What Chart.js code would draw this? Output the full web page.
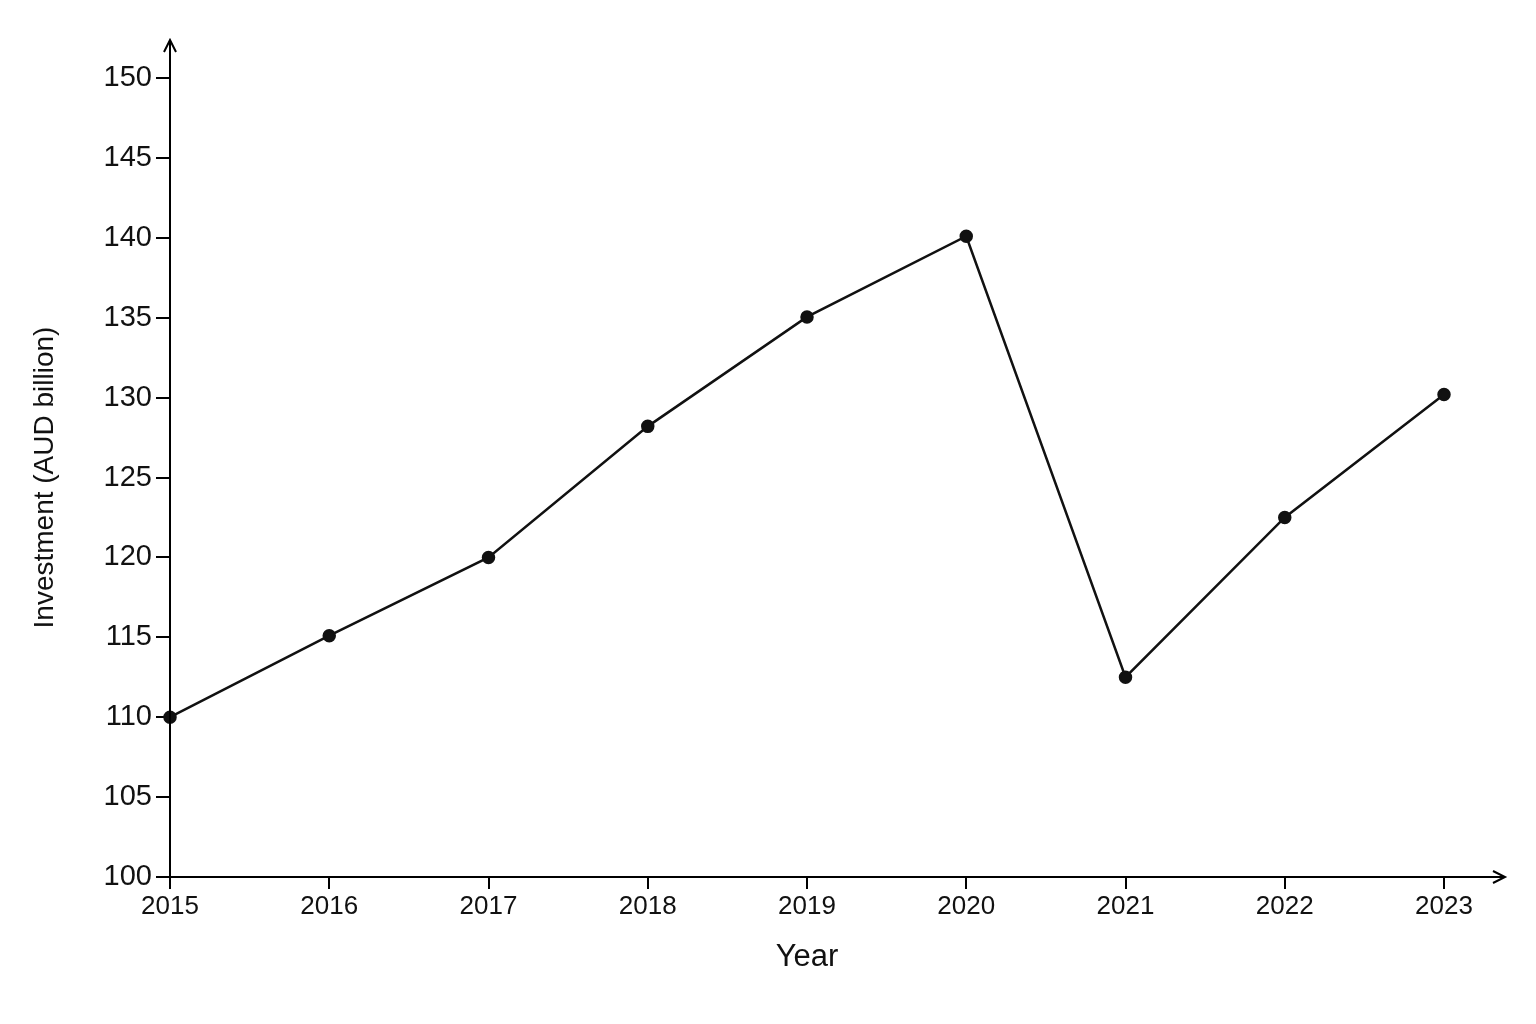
<!DOCTYPE html>
<html><head><meta charset="utf-8">
<script src="https://cdn.jsdelivr.net/npm/chart.js@4/dist/chart.umd.min.js"></script>
<style>html,body{margin:0;background:#fff}</style>
</head><body>
<canvas id="c" width="1536" height="1024"></canvas>
<script>
const years = [2015,2016,2017,2018,2019,2020,2021,2022,2023];
const investment = [110,115.1,120,128.2,135.05,140.1,112.5,122.5,130.2];
const yTicks = [100,105,110,115,120,125,130,135,140,145,150];

const arrows = {
  id:'arrows',
  afterDraw(ch){
    const {ctx, chartArea:a} = ch;
    ctx.save();
    ctx.strokeStyle='#000'; ctx.lineWidth=2;
    ctx.beginPath();
    ctx.moveTo(a.left,a.bottom); ctx.lineTo(a.left,40);
    ctx.moveTo(a.left-6,52); ctx.lineTo(a.left,40); ctx.lineTo(a.left+6,52);
    ctx.moveTo(a.left,a.bottom); ctx.lineTo(1505,a.bottom);
    ctx.moveTo(1493,a.bottom-6); ctx.lineTo(1505,a.bottom); ctx.lineTo(1493,a.bottom+6);
    ctx.stroke();
    ctx.restore();
  }
};

new Chart(document.getElementById('c'),{
  type:'line',
  data:{datasets:[{
    data: years.map((y,i)=>({x:y,y:investment[i]})),
    borderColor:'#111', borderWidth:2.5, backgroundColor:'#111',
    pointRadius:5.5, pointBackgroundColor:'#111', tension:0, clip:false
  }]},
  options:{
    responsive:false, animation:false,
    layout:{padding:{top:78,right:92,left:24,bottom:44}},
    plugins:{legend:{display:false},tooltip:{enabled:false}},
    scales:{
      x:{type:'linear',min:2015,max:2023,
        afterBuildTicks:s=>{s.ticks=years.map(v=>({value:v}));},
        afterFit:s=>{s.height=103;},
        border:{display:false},
        grid:{drawOnChartArea:false,tickLength:12,color:'#000',lineWidth:2},
        ticks:{color:'#111',font:{family:'Liberation Sans',size:26},callback:v=>String(v),maxRotation:0,padding:2},
        title:{display:true,text:'Year',color:'#111',font:{family:'Liberation Sans',size:31},padding:{top:0}}
      },
      y:{min:100,max:150,
        afterBuildTicks:s=>{s.ticks=yTicks.map(v=>({value:v}));},
        afterFit:s=>{s.width=146;},
        border:{display:false},
        grid:{drawOnChartArea:false,tickLength:14,color:'#000',lineWidth:2},
        ticks:{color:'#111',font:{family:'Liberation Sans',size:29},padding:4},
        title:{display:true,text:'Investment (AUD billion)',color:'#111',font:{family:'Liberation Sans',size:28},padding:{bottom:2}}
      }
    }
  },
  plugins:[arrows]
});
</script>
</body></html>
